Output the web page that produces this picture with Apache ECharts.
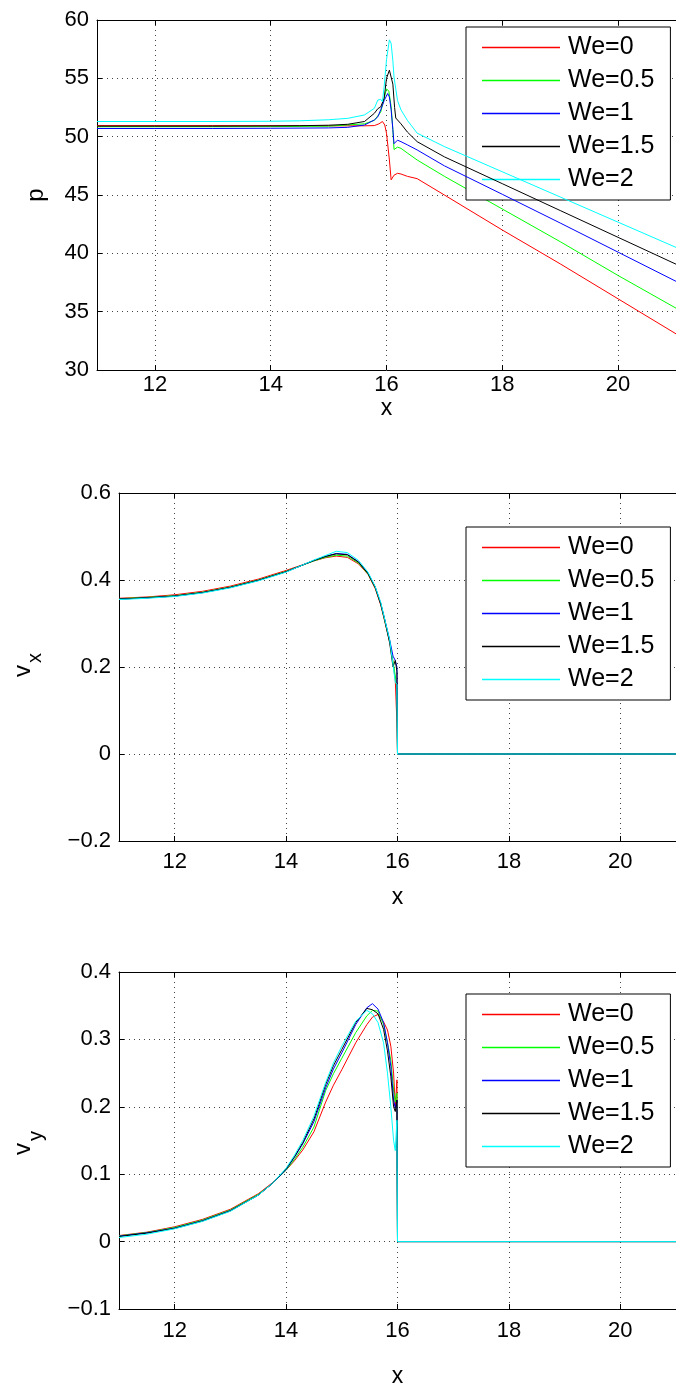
<!DOCTYPE html>
<html>
<head>
<meta charset="utf-8">
<script src="https://cdn.jsdelivr.net/npm/echarts@6/dist/echarts.min.js"></script>
<style>
  html, body { margin: 0; padding: 0; background: #fff; }
  #chart { width: 676px; height: 1389px; }
</style>
</head>
<body>
<div id="chart"></div>
<script>
// Series labels, colours and x tick positions
const weLabels = ['We=0', 'We=0.5', 'We=1', 'We=1.5', 'We=2'];
const weColors = ['#ff0000', '#00ff00', '#0000ff', '#000000', '#00ffff'];
const xTicks = [12, 14, 16, 18, 20];

// Pressure p(x), one [x, p] list per Weissenberg number
const pWe0 = [[11,50.95],[12,50.95],[13,50.95],[14,50.94],[15,50.93],[15.62,50.93],[15.79,50.95],[15.87,51.1],[15.93,51.3],[15.97,51.0],[16.0,50.3],[16.05,48.0],[16.08,46.3],[16.13,46.7],[16.19,46.86],[16.25,46.8],[16.36,46.6],[16.53,46.4],[17,45.0],[18,42.0],[19,39.1],[20,36.1],[21,33.1]];
const pWe05 = [[11,50.85],[12,50.85],[13,50.85],[14,50.86],[15,50.9],[15.62,51.1],[15.79,51.4],[15.9,52.1],[15.96,53.3],[16.0,54.1],[16.04,53.9],[16.08,52.6],[16.11,50.6],[16.13,48.9],[16.19,49.1],[16.25,49.0],[16.36,48.6],[16.53,48.0],[17,46.6],[18,43.8],[19,41.0],[20,38.1],[21,35.3]];
const pWe1 = [[11,50.7],[12,50.7],[13,50.7],[14,50.72],[15,50.75],[15.33,50.8],[15.62,51.0],[15.79,51.43],[15.85,51.7],[15.9,52.3],[15.96,53.1],[16.02,53.7],[16.05,53.4],[16.08,52.3],[16.11,50.6],[16.13,49.4],[16.19,49.7],[16.25,49.57],[16.36,49.3],[16.53,48.86],[17,47.5],[18,45.06],[19,42.6],[20,40.1],[21,37.6]];
const pWe15 = [[11,50.9],[12,50.9],[13,50.9],[14,50.92],[14.5,50.94],[15,50.98],[15.33,51.06],[15.62,51.3],[15.79,52.0],[15.85,52.4],[15.9,52.55],[15.93,52.7],[15.96,53.3],[16.0,55.0],[16.05,55.7],[16.08,55.6],[16.11,54.5],[16.14,52.5],[16.16,51.6],[16.25,51.1],[16.36,50.4],[16.53,49.57],[17,48.27],[18,45.97],[19,43.67],[20,41.37],[21,39.07]];
const pWe2 = [[11,51.3],[12,51.3],[13,51.3],[14,51.32],[14.5,51.36],[15,51.45],[15.33,51.57],[15.62,51.86],[15.79,52.43],[15.85,53.14],[15.9,53.2],[15.93,53.0],[15.96,54.3],[16.0,56.6],[16.05,58.3],[16.08,58.0],[16.11,56.5],[16.13,55.1],[16.19,53.1],[16.25,52.3],[16.36,51.4],[16.53,50.3],[17,49.15],[18,46.99],[19,44.83],[20,42.67],[21,40.51]];

// Velocity v_x(x)
const vxX = [11, 11.5, 12, 12.5, 13, 13.5, 14, 14.25, 14.5, 14.7, 14.9, 15.1, 15.3, 15.47, 15.6, 15.7, 15.77, 15.86, 15.92, 15.96, 15.99, 16.0, 21];
const vxWe0 = [0.358, 0.361, 0.366, 0.374, 0.386, 0.402, 0.422, 0.433, 0.444, 0.451, 0.455, 0.452, 0.437, 0.413, 0.380, 0.342, 0.305, 0.258, 0.210, 0.170, 0.070, 0, 0];
const vxWe05 = [0.357, 0.360, 0.364, 0.372, 0.384, 0.400, 0.420, 0.432, 0.444, 0.452, 0.457, 0.455, 0.439, 0.414, 0.382, 0.345, 0.307, 0.260, 0.212, 0.180, 0.150, 0, 0];
const vxWe1 = [0.356, 0.359, 0.363, 0.371, 0.383, 0.399, 0.419, 0.432, 0.445, 0.454, 0.461, 0.459, 0.442, 0.416, 0.384, 0.346, 0.310, 0.262, 0.225, 0.215, 0.200, 0, 0];
const vxWe15 = [0.356, 0.359, 0.363, 0.371, 0.383, 0.399, 0.419, 0.432, 0.445, 0.454, 0.460, 0.458, 0.441, 0.415, 0.383, 0.344, 0.308, 0.255, 0.200, 0.215, 0.190, 0, 0];
const vxWe2 = [0.355, 0.358, 0.362, 0.370, 0.382, 0.398, 0.418, 0.432, 0.446, 0.456, 0.466, 0.463, 0.445, 0.418, 0.385, 0.348, 0.310, 0.262, 0.205, 0.165, 0.160, 0, 0];

// Velocity v_y(x)
const vyX = [11, 11.5, 12, 12.5, 13, 13.5, 13.75, 14, 14.15, 14.3, 14.5, 14.71, 14.85, 15, 15.25, 15.45, 15.55, 15.65, 15.75, 15.82, 15.88, 15.93, 15.96, 15.99, 16.0, 21];
const vyWe0 = [0.009, 0.014, 0.022, 0.033, 0.048, 0.071, 0.087, 0.106, 0.120, 0.136, 0.163, 0.207, 0.232, 0.255, 0.295, 0.322, 0.333, 0.337, 0.326, 0.314, 0.290, 0.250, 0.200, 0.240, 0, 0];
const vyWe05 = [0.0085, 0.0135, 0.021, 0.032, 0.047, 0.070, 0.086, 0.106, 0.122, 0.140, 0.170, 0.224, 0.249, 0.272, 0.310, 0.335, 0.343, 0.342, 0.322, 0.295, 0.269, 0.225, 0.207, 0.220, 0, 0];
const vyWe1 = [0.008, 0.013, 0.020, 0.031, 0.046, 0.069, 0.086, 0.107, 0.125, 0.145, 0.178, 0.228, 0.256, 0.280, 0.322, 0.347, 0.353, 0.345, 0.325, 0.295, 0.260, 0.210, 0.198, 0.210, 0, 0];
const vyWe15 = [0.0075, 0.0125, 0.0195, 0.0305, 0.0455, 0.069, 0.086, 0.108, 0.126, 0.147, 0.182, 0.233, 0.261, 0.285, 0.325, 0.346, 0.344, 0.338, 0.315, 0.283, 0.245, 0.200, 0.193, 0.210, 0, 0];
const vyWe2 = [0.006, 0.011, 0.019, 0.030, 0.045, 0.069, 0.086, 0.109, 0.128, 0.150, 0.186, 0.236, 0.265, 0.290, 0.327, 0.343, 0.338, 0.325, 0.295, 0.250, 0.200, 0.150, 0.135, 0.180, 0, 0];

const zip = (xs, ys) => xs.map((x, i) => [x, ys[i]]);
const pSets = [pWe0, pWe05, pWe1, pWe15, pWe2];
const vxSets = [vxWe0, vxWe05, vxWe1, vxWe15, vxWe2].map(v => zip(vxX, v));
const vySets = [vyWe0, vyWe05, vyWe1, vyWe15, vyWe2].map(v => zip(vyX, v));

const FONT = 'Liberation Sans, Arial, Helvetica, sans-serif';
const TICK_FONT = 22;
const dotted = { color: '#444', width: 1, type: [1, 4] };

// Three stacked panels: plot boxes in pixels
const panels = [
  { left: 97,  top: 20,  width: 584, height: 350, ymin: 30,   ymax: 60,  step: 5,   fmt: v => String(Math.round(v)),
    labelMargin: 4, nameGap: 19, legendTop: 27 },
  { left: 119, top: 493, width: 569, height: 348, ymin: -0.2, ymax: 0.6, step: 0.2, fmt: v => fmtDec(v),
    labelMargin: 10, nameGap: 45, legendTop: 527 },
  { left: 119, top: 972, width: 569, height: 338, ymin: -0.1, ymax: 0.4, step: 0.1, fmt: v => fmtDec(v),
    labelMargin: 11, nameGap: 56, legendTop: 994 }
];

function fmtDec(v) {
  const r = Math.round(v * 10) / 10;
  if (r === 0) return '0';
  return (r < 0 ? '\u2212' : '') + Math.abs(r).toFixed(1);
}

const grid = [], xAxis = [], yAxis = [], legend = [], series = [];
const dataSets = [pSets, vxSets, vySets];

panels.forEach((pn, g) => {
  grid.push({ left: pn.left, top: pn.top, width: pn.width, height: pn.height, containLabel: false });
  // bottom x axis with labels
  xAxis.push({
    type: 'value', gridIndex: g, min: 11, max: 21, position: 'bottom',
    name: 'x', nameLocation: 'middle', nameGap: pn.nameGap,
    nameTextStyle: { fontFamily: FONT, fontSize: 23, color: '#000' },
    axisLine: { show: true, onZero: false, lineStyle: { color: '#000', width: 1 } },
    axisTick: { show: true, inside: true, length: 5, customValues: xTicks, lineStyle: { color: '#000' } },
    axisLabel: { show: true, customValues: xTicks, margin: pn.labelMargin, fontFamily: FONT, fontSize: TICK_FONT, color: '#000' },
    splitLine: { show: true, lineStyle: dotted }
  });
  // top frame edge with inward ticks
  xAxis.push({
    type: 'value', gridIndex: g, min: 11, max: 21, position: 'top',
    axisLine: { show: true, onZero: false, lineStyle: { color: '#000', width: 1 } },
    axisTick: { show: true, inside: true, length: 5, customValues: xTicks, lineStyle: { color: '#000' } },
    axisLabel: { show: false },
    splitLine: { show: false }
  });
  yAxis.push({
    type: 'value', gridIndex: g, min: pn.ymin, max: pn.ymax, interval: pn.step,
    name: g === 0 ? 'p' : '', nameLocation: 'middle', nameRotate: 90, nameGap: 49,
    nameTextStyle: { fontFamily: FONT, fontSize: 24, color: '#000' },
    axisLine: { show: true, onZero: false, lineStyle: { color: '#000', width: 1 } },
    axisTick: { show: true, inside: true, length: 5, lineStyle: { color: '#000' } },
    axisLabel: { show: true, margin: 8, fontFamily: FONT, fontSize: TICK_FONT, color: '#000', formatter: pn.fmt },
    splitLine: { show: true, lineStyle: dotted }
  });
  legend.push({
    data: weLabels, orient: 'vertical', left: 466, top: pn.legendTop,
    icon: 'rect', itemWidth: 78, itemHeight: 1.3, itemGap: 8,
    padding: [8, 16, 8, 16],
    borderColor: '#000', borderWidth: 1, backgroundColor: '#fff',
    textStyle: { fontFamily: FONT, fontSize: 25, lineHeight: 25, color: '#000', padding: [0, 0, 0, 3] },
    selectedMode: false
  });
  dataSets[g].forEach((d, k) => {
    series.push({
      type: 'line', name: weLabels[k], xAxisIndex: 2 * g, yAxisIndex: g,
      data: d, symbol: 'none', showSymbol: false, clip: true,
      lineStyle: { color: weColors[k], width: 1 }, itemStyle: { color: weColors[k] },
      emphasis: { disabled: true }, animation: false, z: 2 + k
    });
  });
});

// Rotated velocity labels with subscripts (v_x, v_y)
function rotText(text, x, y, size) {
  return {
    type: 'text', x, y, rotation: Math.PI / 2, silent: true,
    style: { text, fontFamily: FONT, fontSize: size, fill: '#000', align: 'center', verticalAlign: 'middle' }
  };
}
const graphic = [
  rotText('v', 23, 671, 24), rotText('x', 35, 658, 20),
  rotText('v', 23, 1149, 24), rotText('y', 36, 1136, 20)
];

const chart = echarts.init(document.getElementById('chart'), null, { renderer: 'canvas' });
chart.setOption({
  backgroundColor: '#fff',
  animation: false,
  grid, xAxis, yAxis, legend, series, graphic
});
</script>
</body>
</html>
